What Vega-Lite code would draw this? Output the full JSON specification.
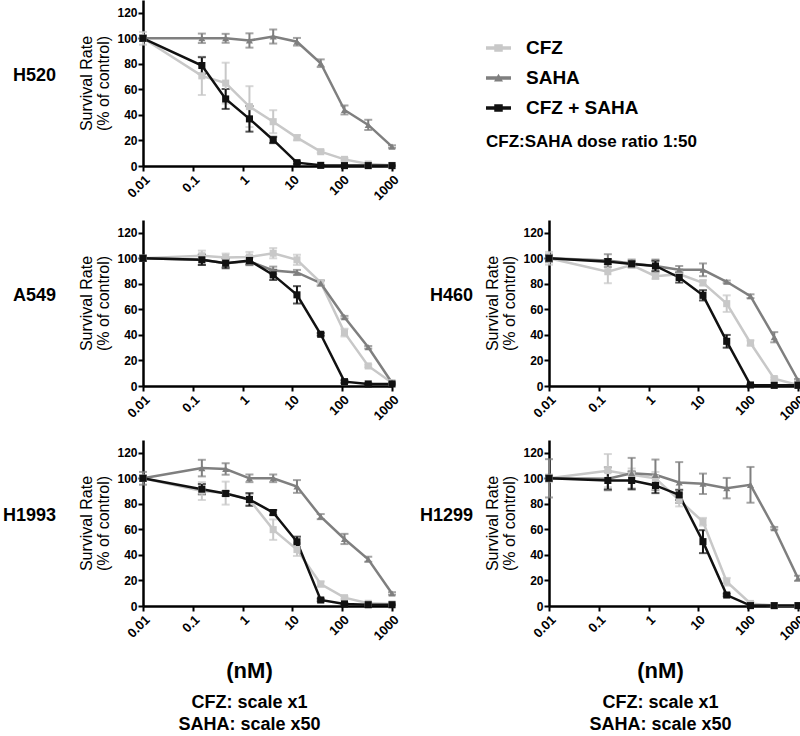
{
  "$schema": "https://vega.github.io/schema/vega-lite/v6.json",
  "background": "white",
  "padding": {"left": 2, "top": 0, "right": 0, "bottom": 0},
  "config": {
    "font": "Liberation Sans",
    "view": {"stroke": null},
    "axis": {"grid": false, "domainColor": "black", "domainWidth": 2.5, "tickColor": "black", "tickWidth": 2, "tickSize": 5, "labelColor": "black", "labelFontWeight": "bold", "labelFont": "Liberation Sans", "titleColor": "black", "titleFont": "Liberation Sans", "labelFlush": false, "labelOverlap": false},
    "axisY": {"labelFontSize": 12, "titleFontSize": 16, "titleFontWeight": "normal", "labelPadding": 1, "titlePadding": 5, "titleLineHeight": 17, "labelOverlap": false},
    "axisX": {"labelFontSize": 13, "labelAngle": -45, "labelPadding": 2},
    "title": {"color": "black", "font": "Liberation Sans"}
  },
  "datasets": {
    "curves": [
      {"cell":"H520","series":"CFZ","conc":0.01,"mean":100,"sd":5},
      {"cell":"H520","series":"CFZ","conc":0.152,"mean":70.6,"sd":15},
      {"cell":"H520","series":"CFZ","conc":0.457,"mean":64.9,"sd":16},
      {"cell":"H520","series":"CFZ","conc":1.372,"mean":46.5,"sd":16},
      {"cell":"H520","series":"CFZ","conc":4.115,"mean":34.7,"sd":9},
      {"cell":"H520","series":"CFZ","conc":12.35,"mean":22.2,"sd":2},
      {"cell":"H520","series":"CFZ","conc":37.04,"mean":11.2,"sd":1},
      {"cell":"H520","series":"CFZ","conc":111.1,"mean":5.2,"sd":1},
      {"cell":"H520","series":"CFZ","conc":333.3,"mean":1.5,"sd":0.5},
      {"cell":"H520","series":"CFZ","conc":1000,"mean":0.5,"sd":0.3},
      {"cell":"H520","series":"SAHA","conc":0.01,"mean":100,"sd":2},
      {"cell":"H520","series":"SAHA","conc":0.152,"mean":100,"sd":3.7},
      {"cell":"H520","series":"SAHA","conc":0.457,"mean":100,"sd":3.5},
      {"cell":"H520","series":"SAHA","conc":1.372,"mean":98.3,"sd":5.6},
      {"cell":"H520","series":"SAHA","conc":4.115,"mean":101.4,"sd":5.5},
      {"cell":"H520","series":"SAHA","conc":12.35,"mean":97.3,"sd":3},
      {"cell":"H520","series":"SAHA","conc":37.04,"mean":80.5,"sd":3},
      {"cell":"H520","series":"SAHA","conc":111.1,"mean":43.9,"sd":3.5},
      {"cell":"H520","series":"SAHA","conc":333.3,"mean":32.2,"sd":4},
      {"cell":"H520","series":"SAHA","conc":1000,"mean":15.2,"sd":1},
      {"cell":"H520","series":"CFZ + SAHA","conc":0.01,"mean":100,"sd":2},
      {"cell":"H520","series":"CFZ + SAHA","conc":0.152,"mean":78.7,"sd":6.5},
      {"cell":"H520","series":"CFZ + SAHA","conc":0.457,"mean":52.5,"sd":7.8},
      {"cell":"H520","series":"CFZ + SAHA","conc":1.372,"mean":36.9,"sd":10},
      {"cell":"H520","series":"CFZ + SAHA","conc":4.115,"mean":20.4,"sd":2.5},
      {"cell":"H520","series":"CFZ + SAHA","conc":12.35,"mean":2.6,"sd":1},
      {"cell":"H520","series":"CFZ + SAHA","conc":37.04,"mean":0.5,"sd":0.3},
      {"cell":"H520","series":"CFZ + SAHA","conc":111.1,"mean":0.3,"sd":0.2},
      {"cell":"H520","series":"CFZ + SAHA","conc":333.3,"mean":0.3,"sd":0.2},
      {"cell":"H520","series":"CFZ + SAHA","conc":1000,"mean":0.3,"sd":0.2},

      {"cell":"A549","series":"CFZ","conc":0.01,"mean":100,"sd":2},
      {"cell":"A549","series":"CFZ","conc":0.152,"mean":102,"sd":4},
      {"cell":"A549","series":"CFZ","conc":0.457,"mean":100.7,"sd":3},
      {"cell":"A549","series":"CFZ","conc":1.372,"mean":101,"sd":4},
      {"cell":"A549","series":"CFZ","conc":4.115,"mean":104,"sd":4},
      {"cell":"A549","series":"CFZ","conc":12.35,"mean":98.8,"sd":4},
      {"cell":"A549","series":"CFZ","conc":37.04,"mean":81,"sd":2},
      {"cell":"A549","series":"CFZ","conc":111.1,"mean":41.8,"sd":3},
      {"cell":"A549","series":"CFZ","conc":333.3,"mean":15.7,"sd":1},
      {"cell":"A549","series":"CFZ","conc":1000,"mean":2.6,"sd":0.5},
      {"cell":"A549","series":"SAHA","conc":0.01,"mean":100,"sd":2},
      {"cell":"A549","series":"SAHA","conc":0.152,"mean":98.8,"sd":4},
      {"cell":"A549","series":"SAHA","conc":0.457,"mean":96.2,"sd":3},
      {"cell":"A549","series":"SAHA","conc":1.372,"mean":97.6,"sd":3},
      {"cell":"A549","series":"SAHA","conc":4.115,"mean":90.5,"sd":3},
      {"cell":"A549","series":"SAHA","conc":12.35,"mean":88.9,"sd":2},
      {"cell":"A549","series":"SAHA","conc":37.04,"mean":80.5,"sd":2},
      {"cell":"A549","series":"SAHA","conc":111.1,"mean":53.9,"sd":1},
      {"cell":"A549","series":"SAHA","conc":333.3,"mean":30.3,"sd":1},
      {"cell":"A549","series":"SAHA","conc":1000,"mean":2.6,"sd":0.5},
      {"cell":"A549","series":"CFZ + SAHA","conc":0.01,"mean":100,"sd":2},
      {"cell":"A549","series":"CFZ + SAHA","conc":0.152,"mean":98.8,"sd":4},
      {"cell":"A549","series":"CFZ + SAHA","conc":0.457,"mean":96.2,"sd":4},
      {"cell":"A549","series":"CFZ + SAHA","conc":1.372,"mean":98.3,"sd":3},
      {"cell":"A549","series":"CFZ + SAHA","conc":4.115,"mean":87,"sd":4},
      {"cell":"A549","series":"CFZ + SAHA","conc":12.35,"mean":71.4,"sd":6.8},
      {"cell":"A549","series":"CFZ + SAHA","conc":37.04,"mean":40.5,"sd":1},
      {"cell":"A549","series":"CFZ + SAHA","conc":111.1,"mean":3.4,"sd":1},
      {"cell":"A549","series":"CFZ + SAHA","conc":333.3,"mean":1.6,"sd":0.5},
      {"cell":"A549","series":"CFZ + SAHA","conc":1000,"mean":1.6,"sd":0.5},

      {"cell":"H460","series":"CFZ","conc":0.01,"mean":100,"sd":5},
      {"cell":"H460","series":"CFZ","conc":0.152,"mean":89.5,"sd":9},
      {"cell":"H460","series":"CFZ","conc":0.457,"mean":94.7,"sd":2},
      {"cell":"H460","series":"CFZ","conc":1.372,"mean":86,"sd":2},
      {"cell":"H460","series":"CFZ","conc":4.115,"mean":87.6,"sd":4},
      {"cell":"H460","series":"CFZ","conc":12.35,"mean":80.8,"sd":2},
      {"cell":"H460","series":"CFZ","conc":37.04,"mean":64.5,"sd":6.5},
      {"cell":"H460","series":"CFZ","conc":111.1,"mean":33.7,"sd":2},
      {"cell":"H460","series":"CFZ","conc":333.3,"mean":5.8,"sd":1},
      {"cell":"H460","series":"CFZ","conc":1000,"mean":0.8,"sd":0.3},
      {"cell":"H460","series":"SAHA","conc":0.01,"mean":100,"sd":3},
      {"cell":"H460","series":"SAHA","conc":0.152,"mean":98.2,"sd":5},
      {"cell":"H460","series":"SAHA","conc":0.457,"mean":96,"sd":3},
      {"cell":"H460","series":"SAHA","conc":1.372,"mean":94,"sd":5},
      {"cell":"H460","series":"SAHA","conc":4.115,"mean":91,"sd":3},
      {"cell":"H460","series":"SAHA","conc":12.35,"mean":91,"sd":5},
      {"cell":"H460","series":"SAHA","conc":37.04,"mean":81.6,"sd":1},
      {"cell":"H460","series":"SAHA","conc":111.1,"mean":70.3,"sd":1.5},
      {"cell":"H460","series":"SAHA","conc":333.3,"mean":38.2,"sd":4},
      {"cell":"H460","series":"SAHA","conc":1000,"mean":4.5,"sd":1},
      {"cell":"H460","series":"CFZ + SAHA","conc":0.01,"mean":100,"sd":2},
      {"cell":"H460","series":"CFZ + SAHA","conc":0.152,"mean":97.4,"sd":2},
      {"cell":"H460","series":"CFZ + SAHA","conc":0.457,"mean":95.6,"sd":2},
      {"cell":"H460","series":"CFZ + SAHA","conc":1.372,"mean":94,"sd":4},
      {"cell":"H460","series":"CFZ + SAHA","conc":4.115,"mean":85,"sd":4},
      {"cell":"H460","series":"CFZ + SAHA","conc":12.35,"mean":71,"sd":4},
      {"cell":"H460","series":"CFZ + SAHA","conc":37.04,"mean":35,"sd":5},
      {"cell":"H460","series":"CFZ + SAHA","conc":111.1,"mean":0.8,"sd":0.3},
      {"cell":"H460","series":"CFZ + SAHA","conc":333.3,"mean":0.5,"sd":0.3},
      {"cell":"H460","series":"CFZ + SAHA","conc":1000,"mean":0.5,"sd":0.3},

      {"cell":"H1993","series":"CFZ","conc":0.01,"mean":100,"sd":2},
      {"cell":"H1993","series":"CFZ","conc":0.152,"mean":90,"sd":7},
      {"cell":"H1993","series":"CFZ","conc":0.457,"mean":88.4,"sd":9},
      {"cell":"H1993","series":"CFZ","conc":1.372,"mean":83.2,"sd":4},
      {"cell":"H1993","series":"CFZ","conc":4.115,"mean":59.8,"sd":8},
      {"cell":"H1993","series":"CFZ","conc":12.35,"mean":44.2,"sd":5},
      {"cell":"H1993","series":"CFZ","conc":37.04,"mean":17.2,"sd":2},
      {"cell":"H1993","series":"CFZ","conc":111.1,"mean":6.5,"sd":1},
      {"cell":"H1993","series":"CFZ","conc":333.3,"mean":2.1,"sd":0.5},
      {"cell":"H1993","series":"CFZ","conc":1000,"mean":1.6,"sd":0.5},
      {"cell":"H1993","series":"SAHA","conc":0.01,"mean":100,"sd":5},
      {"cell":"H1993","series":"SAHA","conc":0.152,"mean":108,"sd":6.5},
      {"cell":"H1993","series":"SAHA","conc":0.457,"mean":107.3,"sd":4.5},
      {"cell":"H1993","series":"SAHA","conc":1.372,"mean":100,"sd":3},
      {"cell":"H1993","series":"SAHA","conc":4.115,"mean":100,"sd":3},
      {"cell":"H1993","series":"SAHA","conc":12.35,"mean":93.6,"sd":5},
      {"cell":"H1993","series":"SAHA","conc":37.04,"mean":70,"sd":2},
      {"cell":"H1993","series":"SAHA","conc":111.1,"mean":52.5,"sd":4},
      {"cell":"H1993","series":"SAHA","conc":333.3,"mean":36.6,"sd":2},
      {"cell":"H1993","series":"SAHA","conc":1000,"mean":9.8,"sd":1},
      {"cell":"H1993","series":"CFZ + SAHA","conc":0.01,"mean":100,"sd":2},
      {"cell":"H1993","series":"CFZ + SAHA","conc":0.152,"mean":91.5,"sd":4},
      {"cell":"H1993","series":"CFZ + SAHA","conc":0.457,"mean":88.1,"sd":2},
      {"cell":"H1993","series":"CFZ + SAHA","conc":1.372,"mean":83.4,"sd":5},
      {"cell":"H1993","series":"CFZ + SAHA","conc":4.115,"mean":73.2,"sd":2},
      {"cell":"H1993","series":"CFZ + SAHA","conc":12.35,"mean":50.3,"sd":4},
      {"cell":"H1993","series":"CFZ + SAHA","conc":37.04,"mean":4.7,"sd":1},
      {"cell":"H1993","series":"CFZ + SAHA","conc":111.1,"mean":1.6,"sd":0.5},
      {"cell":"H1993","series":"CFZ + SAHA","conc":333.3,"mean":1,"sd":0.3},
      {"cell":"H1993","series":"CFZ + SAHA","conc":1000,"mean":1,"sd":0.3},

      {"cell":"H1299","series":"CFZ","conc":0.01,"mean":100,"sd":3},
      {"cell":"H1299","series":"CFZ","conc":0.152,"mean":106,"sd":13},
      {"cell":"H1299","series":"CFZ","conc":0.457,"mean":102.7,"sd":5},
      {"cell":"H1299","series":"CFZ","conc":1.372,"mean":100,"sd":5},
      {"cell":"H1299","series":"CFZ","conc":4.115,"mean":83,"sd":5},
      {"cell":"H1299","series":"CFZ","conc":12.35,"mean":66,"sd":3},
      {"cell":"H1299","series":"CFZ","conc":37.04,"mean":19,"sd":3},
      {"cell":"H1299","series":"CFZ","conc":111.1,"mean":2,"sd":1},
      {"cell":"H1299","series":"CFZ","conc":333.3,"mean":0.3,"sd":0.2},
      {"cell":"H1299","series":"CFZ","conc":1000,"mean":0.3,"sd":0.2},
      {"cell":"H1299","series":"SAHA","conc":0.01,"mean":100,"sd":15},
      {"cell":"H1299","series":"SAHA","conc":0.152,"mean":99.6,"sd":9},
      {"cell":"H1299","series":"SAHA","conc":0.457,"mean":104,"sd":12},
      {"cell":"H1299","series":"SAHA","conc":1.372,"mean":102.7,"sd":12},
      {"cell":"H1299","series":"SAHA","conc":4.115,"mean":96.7,"sd":16},
      {"cell":"H1299","series":"SAHA","conc":12.35,"mean":95.7,"sd":8},
      {"cell":"H1299","series":"SAHA","conc":37.04,"mean":92.3,"sd":8},
      {"cell":"H1299","series":"SAHA","conc":111.1,"mean":94.9,"sd":14},
      {"cell":"H1299","series":"SAHA","conc":333.3,"mean":60.9,"sd":1},
      {"cell":"H1299","series":"SAHA","conc":1000,"mean":21.7,"sd":2},
      {"cell":"H1299","series":"CFZ + SAHA","conc":0.01,"mean":100,"sd":2},
      {"cell":"H1299","series":"CFZ + SAHA","conc":0.152,"mean":98.3,"sd":7},
      {"cell":"H1299","series":"CFZ + SAHA","conc":0.457,"mean":98.3,"sd":7},
      {"cell":"H1299","series":"CFZ + SAHA","conc":1.372,"mean":94.4,"sd":6},
      {"cell":"H1299","series":"CFZ + SAHA","conc":4.115,"mean":87,"sd":4},
      {"cell":"H1299","series":"CFZ + SAHA","conc":12.35,"mean":50.4,"sd":9},
      {"cell":"H1299","series":"CFZ + SAHA","conc":37.04,"mean":8.6,"sd":1},
      {"cell":"H1299","series":"CFZ + SAHA","conc":111.1,"mean":0.3,"sd":0.2},
      {"cell":"H1299","series":"CFZ + SAHA","conc":333.3,"mean":0.3,"sd":0.2},
      {"cell":"H1299","series":"CFZ + SAHA","conc":1000,"mean":0.3,"sd":0.2}
    ]
  },
  "columns": 4,
  "spacing": {"row": 54, "column": 40},
  "bounds": "flush",
  "resolve": {"scale": {"color": "independent", "shape": "independent"}},
  "concat": [
    {"width": 94, "height": 166, "data": {"values": [{"label": "H520"}]},
     "mark": {"type": "text", "align": "right", "baseline": "middle", "fontSize": 18, "fontWeight": "bold", "color": "black", "dy": -7},
     "encoding": {"text": {"field": "label"}}},
    {"width": 249, "height": 166, "data": {"name": "curves"},
     "transform": [{"filter": "datum.cell === 'H520'"}],
     "encoding": {
       "x": {"field": "conc", "type": "quantitative", "scale": {"type": "log", "domain": [0.01, 1000], "nice": false}, "axis": {"title": null, "values": [0.01, 0.1, 1, 10, 100, 1000], "format": "~g", "labelOverlap": false}},
       "y": {"field": "mean", "type": "quantitative", "scale": {"domain": [0, 130], "nice": false}, "axis": {"title": ["Survival Rate", "(% of control)"], "values": [0, 20, 40, 60, 80, 100, 120], "tickCount": 7, "labelOverlap": false, "labelSeparation": 0}},
       "color": {"field": "series", "type": "nominal", "scale": {"domain": ["CFZ", "SAHA", "CFZ + SAHA"], "range": ["#c8c8c8", "#7f7f7f", "#111111"]}, "legend": null}
     },
     "layer": [
       {"mark": {"type": "errorbar", "ticks": {"size": 8}, "thickness": 2}, "encoding": {"yError": {"field": "sd"}}},
       {"mark": {"type": "line", "strokeWidth": 2.5}},
       {"mark": {"type": "point", "filled": true, "opacity": 1, "size": 50}, "encoding": {"shape": {"field": "series", "type": "nominal", "scale": {"domain": ["CFZ", "SAHA", "CFZ + SAHA"], "range": ["square", "triangle-up", "square"]}, "legend": null}}}
     ]},
    {"width": 77, "height": 166,
     "data": {"values": [{"series": "CFZ"}, {"series": "SAHA"}, {"series": "CFZ + SAHA"}]},
     "mark": {"type": "point", "filled": true, "size": 0},
     "encoding": {
       "color": {"field": "series", "type": "nominal", "scale": {"domain": ["CFZ", "SAHA", "CFZ + SAHA"], "range": ["#c8c8c8", "#7f7f7f", "#111111"]},
         "legend": {"title": "CFZ:SAHA dose ratio 1:50", "orient": "none", "legendX": 54, "legendY": 35.5, "titleOrient": "bottom", "titleAnchor": "start", "titleFontSize": 17, "titleFontWeight": "bold", "titleColor": "black", "titlePadding": 15, "titleLimit": 500, "labelLimit": 300, "labelFontSize": 19, "labelFontWeight": "bold", "labelColor": "black", "labelOffset": 15, "symbolSize": 625, "symbolOpacity": 1, "symbolStrokeWidth": 0, "rowPadding": 7}},
       "shape": {"field": "series", "type": "nominal", "scale": {"domain": ["CFZ", "SAHA", "CFZ + SAHA"], "range": ["M-1,-0.14L1,-0.14L1,0.14L-1,0.14Z M-0.34,-0.3L0.34,-0.3L0.34,0.3L-0.34,0.3Z", "M-1,-0.14L1,-0.14L1,0.14L-1,0.14Z M-0.36,0.28L0,-0.34L0.36,0.28Z", "M-1,-0.14L1,-0.14L1,0.14L-1,0.14Z M-0.34,-0.3L0.34,-0.3L0.34,0.3L-0.34,0.3Z"]},
         "legend": {"title": "CFZ:SAHA dose ratio 1:50", "orient": "none", "legendX": 54, "legendY": 35.5, "titleOrient": "bottom", "titleAnchor": "start", "titleFontSize": 17, "titleFontWeight": "bold", "titleColor": "black", "titlePadding": 15, "titleLimit": 500, "labelLimit": 300, "labelFontSize": 19, "labelFontWeight": "bold", "labelColor": "black", "labelOffset": 15, "symbolSize": 625, "symbolOpacity": 1, "symbolStrokeWidth": 0, "rowPadding": 7}}
     }},
    {"width": 249, "height": 166, "data": {"values": [{"label": ""}]},
     "mark": {"type": "text"},
     "encoding": {"text": {"field": "label"}}},

    {"width": 94, "height": 166, "data": {"values": [{"label": "A549"}]},
     "mark": {"type": "text", "align": "right", "baseline": "middle", "fontSize": 18, "fontWeight": "bold", "color": "black", "dy": -7},
     "encoding": {"text": {"field": "label"}}},
    {"width": 249, "height": 166, "data": {"name": "curves"},
     "transform": [{"filter": "datum.cell === 'A549'"}],
     "encoding": {
       "x": {"field": "conc", "type": "quantitative", "scale": {"type": "log", "domain": [0.01, 1000], "nice": false}, "axis": {"title": null, "values": [0.01, 0.1, 1, 10, 100, 1000], "format": "~g", "labelOverlap": false}},
       "y": {"field": "mean", "type": "quantitative", "scale": {"domain": [0, 130], "nice": false}, "axis": {"title": ["Survival Rate", "(% of control)"], "values": [0, 20, 40, 60, 80, 100, 120], "tickCount": 7, "labelOverlap": false, "labelSeparation": 0}},
       "color": {"field": "series", "type": "nominal", "scale": {"domain": ["CFZ", "SAHA", "CFZ + SAHA"], "range": ["#c8c8c8", "#7f7f7f", "#111111"]}, "legend": null}
     },
     "layer": [
       {"mark": {"type": "errorbar", "ticks": {"size": 8}, "thickness": 2}, "encoding": {"yError": {"field": "sd"}}},
       {"mark": {"type": "line", "strokeWidth": 2.5}},
       {"mark": {"type": "point", "filled": true, "opacity": 1, "size": 50}, "encoding": {"shape": {"field": "series", "type": "nominal", "scale": {"domain": ["CFZ", "SAHA", "CFZ + SAHA"], "range": ["square", "triangle-up", "square"]}, "legend": null}}}
     ]},
    {"width": 77, "height": 166, "data": {"values": [{"label": "H460"}]},
     "mark": {"type": "text", "align": "right", "baseline": "middle", "fontSize": 18, "fontWeight": "bold", "color": "black", "dy": -7, "dx": 2.5},
     "encoding": {"text": {"field": "label"}}},
    {"width": 249, "height": 166, "data": {"name": "curves"},
     "transform": [{"filter": "datum.cell === 'H460'"}],
     "encoding": {
       "x": {"field": "conc", "type": "quantitative", "scale": {"type": "log", "domain": [0.01, 1000], "nice": false}, "axis": {"title": null, "values": [0.01, 0.1, 1, 10, 100, 1000], "format": "~g", "labelOverlap": false}},
       "y": {"field": "mean", "type": "quantitative", "scale": {"domain": [0, 130], "nice": false}, "axis": {"title": ["Survival Rate", "(% of control)"], "values": [0, 20, 40, 60, 80, 100, 120], "tickCount": 7, "labelOverlap": false, "labelSeparation": 0}},
       "color": {"field": "series", "type": "nominal", "scale": {"domain": ["CFZ", "SAHA", "CFZ + SAHA"], "range": ["#c8c8c8", "#7f7f7f", "#111111"]}, "legend": null}
     },
     "layer": [
       {"mark": {"type": "errorbar", "ticks": {"size": 8}, "thickness": 2}, "encoding": {"yError": {"field": "sd"}}},
       {"mark": {"type": "line", "strokeWidth": 2.5}},
       {"mark": {"type": "point", "filled": true, "opacity": 1, "size": 50}, "encoding": {"shape": {"field": "series", "type": "nominal", "scale": {"domain": ["CFZ", "SAHA", "CFZ + SAHA"], "range": ["square", "triangle-up", "square"]}, "legend": null}}}
     ]},

    {"width": 94, "height": 166, "data": {"values": [{"label": "H1993"}]},
     "mark": {"type": "text", "align": "right", "baseline": "middle", "fontSize": 18, "fontWeight": "bold", "color": "black", "dy": -7},
     "encoding": {"text": {"field": "label"}}},
    {"width": 249, "height": 166, "data": {"name": "curves"},
     "transform": [{"filter": "datum.cell === 'H1993'"}],
     "title": {"text": "(nM)", "subtitle": ["CFZ:  scale x1", "SAHA: scale x50"], "orient": "bottom", "anchor": "middle", "fontSize": 22, "fontWeight": "bold", "subtitleFontSize": 18, "subtitleFontWeight": "bold", "subtitleColor": "black", "subtitleLineHeight": 22, "subtitlePadding": 11, "offset": 18, "dx": -18},
     "encoding": {
       "x": {"field": "conc", "type": "quantitative", "scale": {"type": "log", "domain": [0.01, 1000], "nice": false}, "axis": {"title": null, "values": [0.01, 0.1, 1, 10, 100, 1000], "format": "~g", "labelOverlap": false}},
       "y": {"field": "mean", "type": "quantitative", "scale": {"domain": [0, 130], "nice": false}, "axis": {"title": ["Survival Rate", "(% of control)"], "values": [0, 20, 40, 60, 80, 100, 120], "tickCount": 7, "labelOverlap": false, "labelSeparation": 0}},
       "color": {"field": "series", "type": "nominal", "scale": {"domain": ["CFZ", "SAHA", "CFZ + SAHA"], "range": ["#c8c8c8", "#7f7f7f", "#111111"]}, "legend": null}
     },
     "layer": [
       {"mark": {"type": "errorbar", "ticks": {"size": 8}, "thickness": 2}, "encoding": {"yError": {"field": "sd"}}},
       {"mark": {"type": "line", "strokeWidth": 2.5}},
       {"mark": {"type": "point", "filled": true, "opacity": 1, "size": 50}, "encoding": {"shape": {"field": "series", "type": "nominal", "scale": {"domain": ["CFZ", "SAHA", "CFZ + SAHA"], "range": ["square", "triangle-up", "square"]}, "legend": null}}}
     ]},
    {"width": 77, "height": 166, "data": {"values": [{"label": "H1299"}]},
     "mark": {"type": "text", "align": "right", "baseline": "middle", "fontSize": 18, "fontWeight": "bold", "color": "black", "dy": -7, "dx": 2.5},
     "encoding": {"text": {"field": "label"}}},
    {"width": 249, "height": 166, "data": {"name": "curves"},
     "transform": [{"filter": "datum.cell === 'H1299'"}],
     "title": {"text": "(nM)", "subtitle": ["CFZ:  scale x1", "SAHA: scale x50"], "orient": "bottom", "anchor": "middle", "fontSize": 22, "fontWeight": "bold", "subtitleFontSize": 18, "subtitleFontWeight": "bold", "subtitleColor": "black", "subtitleLineHeight": 22, "subtitlePadding": 11, "offset": 18, "dx": -13},
     "encoding": {
       "x": {"field": "conc", "type": "quantitative", "scale": {"type": "log", "domain": [0.01, 1000], "nice": false}, "axis": {"title": null, "values": [0.01, 0.1, 1, 10, 100, 1000], "format": "~g", "labelOverlap": false}},
       "y": {"field": "mean", "type": "quantitative", "scale": {"domain": [0, 130], "nice": false}, "axis": {"title": ["Survival Rate", "(% of control)"], "values": [0, 20, 40, 60, 80, 100, 120], "tickCount": 7, "labelOverlap": false, "labelSeparation": 0}},
       "color": {"field": "series", "type": "nominal", "scale": {"domain": ["CFZ", "SAHA", "CFZ + SAHA"], "range": ["#c8c8c8", "#7f7f7f", "#111111"]}, "legend": null}
     },
     "layer": [
       {"mark": {"type": "errorbar", "ticks": {"size": 8}, "thickness": 2}, "encoding": {"yError": {"field": "sd"}}},
       {"mark": {"type": "line", "strokeWidth": 2.5}},
       {"mark": {"type": "point", "filled": true, "opacity": 1, "size": 50}, "encoding": {"shape": {"field": "series", "type": "nominal", "scale": {"domain": ["CFZ", "SAHA", "CFZ + SAHA"], "range": ["square", "triangle-up", "square"]}, "legend": null}}}
     ]}
  ]
}
